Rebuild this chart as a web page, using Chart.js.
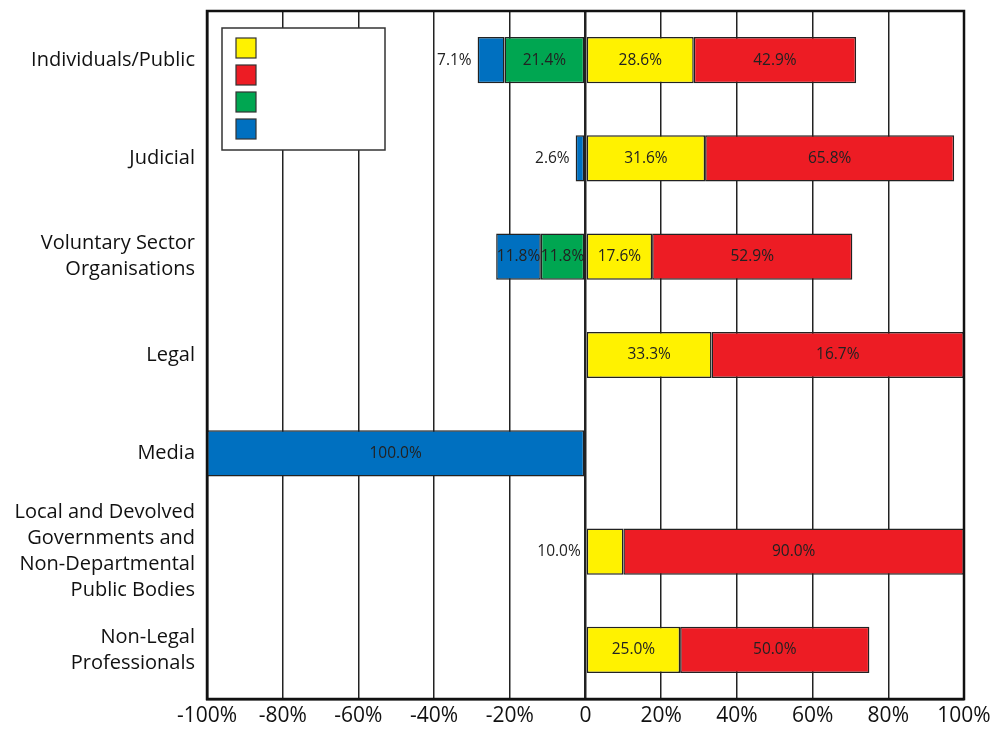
<!DOCTYPE html>
<html>
<head>
<meta charset="utf-8">
<script src="https://cdn.jsdelivr.net/npm/chart.js@4.4.0/dist/chart.umd.min.js"></script>
<style>
  html, body { margin: 0; padding: 0; background: #fff; }
  #wrap { width: 993px; height: 731px; }
</style>
</head>
<body>
<div id="wrap"><canvas id="chart" width="993" height="731"></canvas></div>
<script>
const categories = [
    'Individuals/Public',
    'Judicial',
    ['Voluntary Sector', 'Organisations'],
    'Legal',
    'Media',
    ['Local and Devolved', 'Governments and', 'Non-Departmental', 'Public Bodies'],
    ['Non-Legal', 'Professionals']
];

// positive side
const yellowVals = [28.6, 31.6, 17.6, 33.3, null, 10.0, 25.0];
const redVals = [42.9, 65.8, 52.9, 66.7, null, 90.0, 50.0];
// negative side
const greenVals = [-21.4, null, -11.8, null, null, null, null];
const blueVals = [-7.1, -2.6, -11.8, null, -100.0, null, null];

// the printed label on the Legal red bar reads 16.7% in the original
const redShown = [42.9, 65.8, 52.9, 16.7, null, 90.0, 50.0];

const xTicks = [-100, -80, -60, -40, -20, 0, 20, 40, 60, 80, 100];

const FONT = "'Open Sans', 'Noto Sans', sans-serif";

const frameAndLabels = {
    id: 'frameAndLabels',
    afterDatasetsDraw(chart) {
        const ctx = chart.ctx;
        const area = chart.chartArea;

        // bar labels
        ctx.save();
        ctx.font = '15.5px ' + FONT;
        ctx.fillStyle = '#222';
        ctx.textBaseline = 'middle';
        chart.data.datasets.forEach((ds, di) => {
            const meta = chart.getDatasetMeta(di);
            meta.data.forEach((bar, i) => {
                const v = ds.data[i];
                if (v === null || v === undefined) return;
                const shown = ds.shown ? ds.shown[i] : Math.abs(v);
                const txt = shown.toFixed(1) + '%';
                const left = Math.min(bar.x, bar.base);
                const w = Math.abs(bar.x - bar.base);
                if (w < 40) {
                    ctx.textAlign = 'right';
                    ctx.fillText(txt, left - 6, bar.y);
                } else {
                    ctx.textAlign = 'center';
                    ctx.fillText(txt, left + w / 2, bar.y);
                }
            });
        });
        ctx.restore();

        // frame
        ctx.save();
        ctx.strokeStyle = '#111';
        ctx.lineWidth = 2.5;
        ctx.strokeRect(area.left, area.top, area.right - area.left, area.bottom - area.top);
        ctx.restore();

        // legend box (labels are empty in the original)
        ctx.save();
        const bx = area.left + 15, by = area.top + 17;
        ctx.fillStyle = '#fff';
        ctx.fillRect(bx, by, 163, 122);
        ctx.strokeStyle = '#333';
        ctx.lineWidth = 1.5;
        ctx.strokeRect(bx, by, 163, 122);
        chart.data.datasets.forEach((ds, di) => {
            const sy = by + 10 + di * 27;
            ctx.fillStyle = ds.backgroundColor;
            ctx.fillRect(bx + 14, sy, 20, 20);
            ctx.strokeStyle = '#333';
            ctx.lineWidth = 1.2;
            ctx.strokeRect(bx + 14, sy, 20, 20);
        });
        ctx.restore();
    }
};

const barStyle = {
    borderColor: '#222',
    borderWidth: 1.5,
    borderSkipped: false,
    barPercentage: 0.94,
    categoryPercentage: 0.5
};

new Chart(document.getElementById('chart'), {
    type: 'bar',
    data: {
        labels: categories,
        datasets: [
            Object.assign({ label: '', data: yellowVals, backgroundColor: '#FFF200' }, barStyle),
            Object.assign({ label: '', data: redVals, backgroundColor: '#ED1C24', shown: redShown }, barStyle),
            Object.assign({ label: '', data: greenVals, backgroundColor: '#00A651' }, barStyle),
            Object.assign({ label: '', data: blueVals, backgroundColor: '#0070C0' }, barStyle)
        ]
    },
    options: {
        indexAxis: 'y',
        responsive: false,
        animation: false,
        layout: { padding: { top: 11, right: 29, left: 0, bottom: 0 } },
        plugins: {
            legend: { display: false },
            tooltip: { enabled: false }
        },
        scales: {
            x: {
                stacked: true,
                min: -100,
                max: 100,
                afterBuildTicks(scale) {
                    scale.ticks = xTicks.map(v => ({ value: v }));
                },
                afterFit(scale) {
                    scale.height = 32;
                    scale.paddingLeft = 0;
                    scale.paddingRight = 0;
                },
                ticks: {
                    color: '#111',
                    font: { size: 21, family: FONT },
                    padding: 4,
                    maxRotation: 0,
                    autoSkip: false,
                    callback: v => v === 0 ? '0' : v + '%'
                },
                grid: {
                    color: '#222',
                    lineWidth: c => c.tick && c.tick.value === 0 ? 2.5 : 1.5,
                    drawTicks: false
                },
                border: { color: '#111', width: 2.5 }
            },
            y: {
                stacked: true,
                afterFit(scale) {
                    scale.width = 207;
                    scale.paddingTop = 0;
                    scale.paddingBottom = 0;
                },
                ticks: {
                    color: '#111',
                    autoSkip: false,
                    font: { size: 20, family: FONT, lineHeight: 1.3 },
                    padding: 12
                },
                grid: { display: false, drawTicks: false },
                border: { color: '#111', width: 2.5 }
            }
        }
    },
    plugins: [frameAndLabels]
});
</script>
</body>
</html>
